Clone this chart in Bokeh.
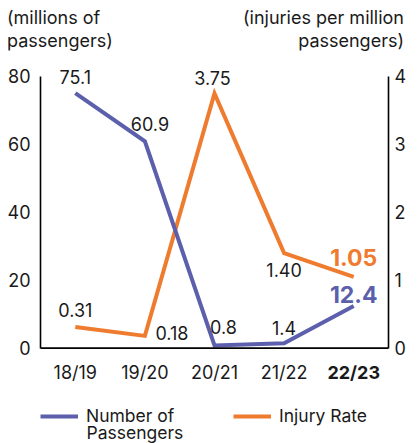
from bokeh.plotting import figure
from bokeh.models import (FactorRange, Range1d, LinearAxis, Legend, LegendItem,
                          ColumnDataSource, FixedTicker, Span, Div)
from bokeh.layouts import column
from bokeh.core.properties import value
from bokeh.embed import file_html
from bokeh.resources import INLINE

# ---- data ----
cats = ["18/19", "19/20", "20/21", "21/22", "22/23"]
passengers = [75.1, 60.9, 0.8, 1.4, 12.4]
injury_rate = [0.31, 0.18, 3.75, 1.40, 1.05]
left_ticks = [0, 20, 40, 60, 80]
right_ticks = [0, 1, 2, 3, 4]
left_title = ["(millions of", "passengers)"]
right_title = ["(injuries per million", "passengers)"]
series_names = [["Number of", "Passengers"], ["Injury Rate"]]

# ---- style ----
FONT = "Inter"
BLUE = "#5b5fac"
ORANGE = "#ef7b2f"
INK = "#1a1a1a"
FS = "18px"
W = 409
HEAD_H = 58
MAIN_H = 385
Y_LO, Y_HI = -28.1, 85.3      # left-axis view range (axis itself is bounded 0..80)
RATIO = 20                     # left units per right unit
GLYPH_W = 38
STANDOFF = 8

# ---- header with the two axis titles ----
head_html = (
    f'<div style="position:relative;width:{W}px;height:{HEAD_H}px;font-family:{FONT};'
    f'font-size:{FS};line-height:23px;color:{INK};">'
    f'<div style="position:absolute;left:7px;top:6px;white-space:nowrap;">'
    f'{left_title[0]}<br>{left_title[1]}</div>'
    f'<div style="position:absolute;left:0px;width:404px;top:6px;text-align:right;'
    f'white-space:nowrap;">{right_title[0]}<br>{right_title[1]}</div></div>'
)
head = Div(text=head_html, width=W, height=HEAD_H, margin=0)

# ---- main chart ----
p = figure(x_range=FactorRange(factors=cats, range_padding=0),
           y_range=Range1d(Y_LO, Y_HI),
           width=W, height=MAIN_H,
           min_border_left=40, min_border_right=17,
           min_border_top=0, min_border_bottom=0,
           x_axis_location=None,
           output_backend="svg", toolbar_location=None)
p.extra_y_ranges = {"rate": Range1d(Y_LO / RATIO, Y_HI / RATIO)}
p.outline_line_color = None
p.grid.visible = False


def style_axis(ax):
    ax.axis_line_color = "black"
    ax.axis_line_width = 1.6
    ax.major_tick_line_color = None
    ax.minor_tick_line_color = None
    ax.major_tick_out = 0
    ax.major_tick_in = 0
    ax.minor_tick_out = 0
    ax.major_label_text_font = FONT
    ax.major_label_text_font_size = FS
    ax.major_label_text_color = INK


ly = p.yaxis[0]
ly.ticker = FixedTicker(ticks=left_ticks)
ly.bounds = (left_ticks[0], left_ticks[-1])
style_axis(ly)
ly.major_label_standoff = 10

ry = LinearAxis(y_range_name="rate", ticker=FixedTicker(ticks=right_ticks),
                bounds=(right_ticks[0], right_ticks[-1]))
style_axis(ry)
ry.major_label_standoff = 6
p.add_layout(ry, "right")

# x axis baseline
p.add_layout(Span(location=0, dimension="width", line_color="black", line_width=1.6))

# category labels (last one bold)
CAT_Y = -7.2
cl = ColumnDataSource(dict(x=cats[:-1], y=[CAT_Y] * (len(cats) - 1), t=cats[:-1]))
p.text("x", "y", text="t", source=cl, text_align="center", text_baseline="middle",
       text_font=value(FONT), text_font_size=FS, text_color=INK)
cb = ColumnDataSource(dict(x=cats[-1:], y=[CAT_Y], t=cats[-1:]))
p.text("x", "y", text="t", source=cb, text_align="center", text_baseline="middle",
       text_font=value(FONT), text_font_size=FS, text_font_style="bold", text_color=INK)

# ---- lines ----
src = ColumnDataSource(dict(x=cats, pas=passengers, rate=injury_rate))
l_rate = p.line("x", "rate", source=src, y_range_name="rate", line_color=ORANGE,
                line_width=4, line_join="miter")
l_pas = p.line("x", "pas", source=src, line_color=BLUE, line_width=4, line_join="miter")

# ---- data labels ----
pas_dx = [0, 5, 9, 0]
pas_dy = [-16, -17, -18, -15]
rate_dx = [0, 27, -2, 0]
rate_dy = [-17, -3, -15, 17]

pl = ColumnDataSource(dict(x=cats[:-1], y=passengers[:-1],
                           t=[f"{v:.1f}" for v in passengers[:-1]], dx=pas_dx, dy=pas_dy))
p.text("x", "y", text="t", source=pl, x_offset="dx", y_offset="dy",
       text_align="center", text_baseline="middle", text_font=value(FONT),
       text_font_size=FS, text_color=INK)
rl = ColumnDataSource(dict(x=cats[:-1], y=injury_rate[:-1],
                           t=[f"{v:.2f}" for v in injury_rate[:-1]], dx=rate_dx, dy=rate_dy))
p.text("x", "y", text="t", source=rl, y_range_name="rate", x_offset="dx", y_offset="dy",
       text_align="center", text_baseline="middle", text_font=value(FONT),
       text_font_size=FS, text_color=INK)

pb = ColumnDataSource(dict(x=cats[-1:], y=passengers[-1:], t=[f"{passengers[-1]:.1f}"]))
p.text("x", "y", text="t", source=pb, x_offset=0, y_offset=-12,
       text_align="center", text_baseline="middle", text_font=value(FONT),
       text_font_size="23px", text_font_style="bold", text_color=BLUE)
rb = ColumnDataSource(dict(x=cats[-1:], y=injury_rate[-1:], t=[f"{injury_rate[-1]:.2f}"]))
p.text("x", "y", text="t", source=rb, y_range_name="rate", x_offset=0, y_offset=-19,
       text_align="center", text_baseline="middle", text_font=value(FONT),
       text_font_size="23px", text_font_style="bold", text_color=ORANGE)

# ---- legend ----
legend = Legend(items=[LegendItem(label=series_names[0][0], renderers=[l_pas]),
                       LegendItem(label=series_names[1][0], renderers=[l_rate])],
                orientation="horizontal", location=(0, 17),
                border_line_color=None, background_fill_alpha=0,
                label_text_font=FONT, label_text_font_size="17.5px", label_text_color=INK,
                glyph_width=GLYPH_W, glyph_height=20, label_standoff=STANDOFF,
                label_width=147, label_height=20,
                spacing=0, padding=0, margin=0)
p.add_layout(legend, "center")
# second line of the first legend label
l2 = ColumnDataSource(dict(x=[0], y=[-24.9], t=series_names[0][1:]))
p.text("x", "y", text="t", source=l2, x_offset=GLYPH_W + STANDOFF, text_align="left",
       text_baseline="middle", text_font=value(FONT), text_font_size="17.5px",
       text_color=INK)

layout = column(head, p, spacing=0)
open("out.html", "w").write(file_html(layout, INLINE))
